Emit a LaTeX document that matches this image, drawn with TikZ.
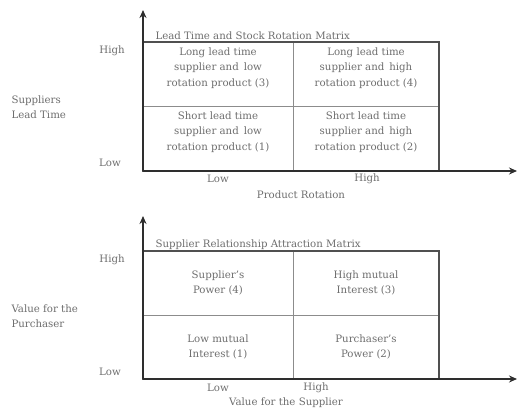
\documentclass[tikz,border=0pt]{standalone}
\usepackage{fontspec}
\setmainfont{DejaVu Serif}
\usetikzlibrary{positioning,calc,arrows.meta}
\definecolor{tinta}{HTML}{6E6E6E}
\definecolor{eje}{HTML}{2E2E2E}
\definecolor{marco}{HTML}{505050}
\definecolor{rejilla}{HTML}{8C8C8C}

\begin{document}
\begin{tikzpicture}[x=1pt, y=-1pt,
  every node/.style={text=tinta, font=\fontsize{10.2}{15.5}\selectfont},
  celda/.style={align=center},
  rotulo/.style={align=left, anchor=west},
  axis/.style={eje, line width=2pt, -{Stealth[length=8pt,width=7pt]}}]
\useasboundingbox (0,0) rectangle (531,416);
\fill[white] (0,0) rectangle (531,416);

% ================= matriz 1: lead time / rotacion =================
\coordinate (o1) at (143,171);
\coordinate (tl1) at (143,42);
\coordinate (br1) at (439,171);
\coordinate (m1) at (293,106);
\draw[rejilla, line width=0.7pt] (m1 |- tl1) -- (m1 |- br1);
\draw[rejilla, line width=0.7pt] (tl1 |- m1) -- (br1 |- m1);
\draw[marco, line width=1.2pt] (tl1) rectangle (br1);
% ejes
\draw[axis] (o1) -- (143,10) coordinate (ytop1);
\draw[axis] (o1) -- (517,171) coordinate (xend1);

\node[anchor=base west] (tit1) at (152,39) {Lead Time and Stock Rotation Matrix};
\node (q3) at (218,68) [celda] {Long lead time\\supplier and\, low\\rotation product (3)};
\node (q4) at (366,68) [celda] {Long lead time\\supplier and\, high\\rotation product (4)};
\node (q1) at (218,132) [celda] {Short lead time\\supplier and\, low\\rotation product (1)};
\node (q2) at (366,132) [celda] {Short lead time\\supplier and\, high\\rotation product (2)};

\node (yhi1) at (112,51) {High};
\node (ylo1) at (110,163) {Low};
\node[rotulo] (ylab1) at (8,107) {Suppliers\\Lead Time};
\node (xlo1) at (218,179) {Low};
\node (xhi1) at (367,179) {High};
\node (xlab1) at (301,195) {Product Rotation};

% ================= matriz 2: atraccion =================
\coordinate (o2) at (143,379);
\coordinate (tl2) at (143,251);
\coordinate (br2) at (439,379);
\coordinate (m2) at (293,315);
\draw[rejilla, line width=0.7pt] (m2 |- tl2) -- (m2 |- br2);
\draw[rejilla, line width=0.7pt] (tl2 |- m2) -- (br2 |- m2);
\draw[marco, line width=1.2pt] (tl2) rectangle (br2);
% ejes
\draw[axis] (o2) -- (143,216) coordinate (ytop2);
\draw[axis] (o2) -- (517,379) coordinate (xend2);

\node[anchor=base west] (tit2) at (152,247) {Supplier Relationship Attraction Matrix};
\node (p4) at (218,283) [celda] {Supplier's\\Power (4)};
\node (p3) at (366,283) [celda] {High mutual\\Interest (3)};
\node (p1) at (218,347) [celda] {Low mutual\\Interest (1)};
\node (p2) at (366,347) [celda] {Purchaser's\\Power (2)};

\node (yhi2) at (112,260) {High};
\node (ylo2) at (110,372) {Low};
\node[rotulo] (ylab2) at (8,316) {Value for the\\Purchaser};
\node (xlo2) at (218,388) {Low};
\node (xhi2) at (316,388) {High};
\node (xlab2) at (286,403) {Value for the Supplier};

\end{tikzpicture}
\end{document}
